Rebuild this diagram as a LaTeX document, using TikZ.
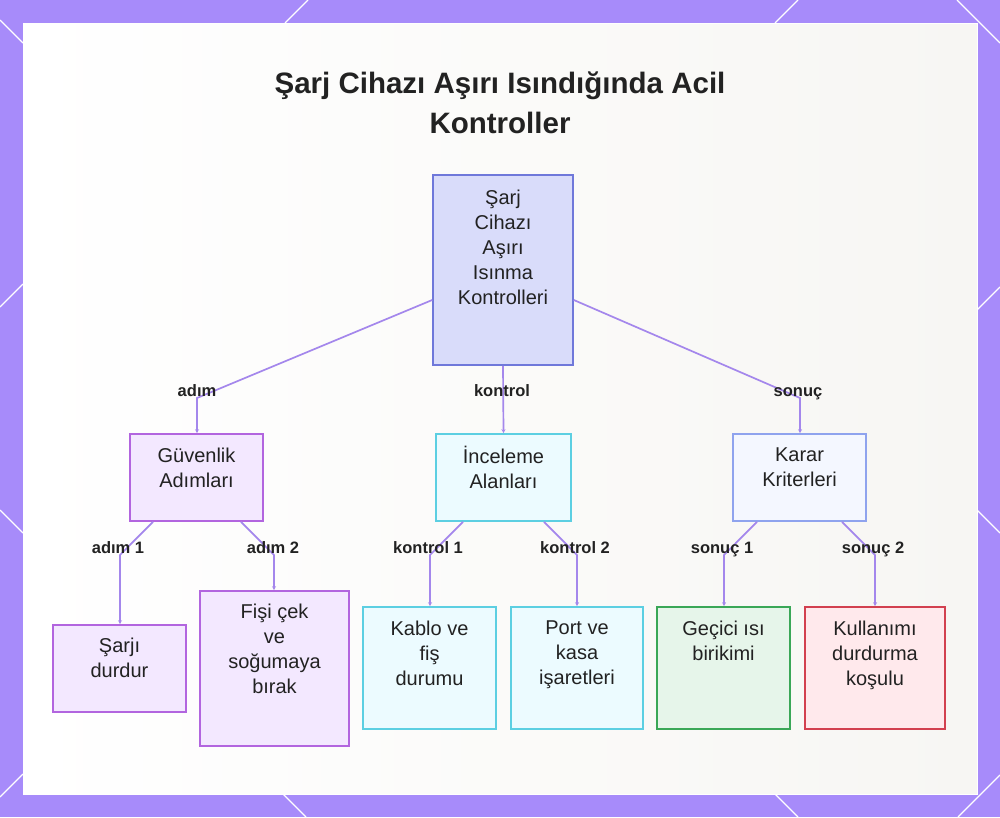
\documentclass[tikz,border=0pt]{standalone}
\usepackage{fontspec}
\setmainfont{Liberation Sans}
\usetikzlibrary{arrows.meta}
\definecolor{frame}{HTML}{A78BFA}
\definecolor{conn}{HTML}{A487EC}
\definecolor{txt}{HTML}{222222}
\definecolor{rootF}{HTML}{D9DCFA}\definecolor{rootD}{HTML}{6F78DA}
\definecolor{purF}{HTML}{F3E8FF}\definecolor{purD}{HTML}{B265DF}
\definecolor{cyaF}{HTML}{ECFBFF}\definecolor{cyaD}{HTML}{5CCFE2}
\definecolor{bluF}{HTML}{F4F7FF}\definecolor{bluD}{HTML}{8FA3EE}
\definecolor{grnF}{HTML}{E6F5EA}\definecolor{grnD}{HTML}{3AA757}
\definecolor{redF}{HTML}{FFE9EC}\definecolor{redD}{HTML}{D2404F}
\tikzset{
  boxbase/.style={draw, line width=1.6pt, inner sep=0pt},
  rootbox/.style={boxbase, fill=rootF, draw=rootD},
  purbox/.style={boxbase, fill=purF, draw=purD},
  cyabox/.style={boxbase, fill=cyaF, draw=cyaD},
  blubox/.style={boxbase, fill=bluF, draw=bluD},
  grnbox/.style={boxbase, fill=grnF, draw=grnD},
  redbox/.style={boxbase, fill=redF, draw=redD},
  btext/.style={anchor=north, inner sep=0pt, align=center, text=txt, font=\fontsize{20}{25}\selectfont},
  elabel/.style={anchor=base, inner sep=1pt, text=txt, font=\fontsize{16.5}{18}\selectfont\bfseries},
  conline/.style={draw=conn, line width=1.7pt, -{Stealth[length=4pt,width=4pt]}},
  frameline/.style={draw=white, line width=1.3pt}
}
\begin{document}
\begin{tikzpicture}[x=1pt,y=-1pt]
\useasboundingbox (0,0) rectangle (1000,817);
% frame
\fill[frame] (0,0) rectangle (1000,817);
\draw[frameline] (0,20) -- (23,43);
\draw[frameline] (285,23) -- (308,0);
\draw[frameline] (775,23) -- (798,0);
\draw[frameline] (957,0) -- (1000,43);
\draw[frameline] (0,307) -- (23,284);
\draw[frameline] (0,510) -- (23,533);
\draw[frameline] (977,310) -- (1000,287);
\draw[frameline] (977,510) -- (1000,533);
\draw[frameline] (0,797) -- (23,774);
\draw[frameline] (283,794) -- (306,817);
\draw[frameline] (775,794) -- (798,817);
\draw[frameline] (958,817) -- (1000,775);
\shade[left color=white, right color={rgb,255:red,247;green,246;blue,243}, draw=white, line width=1pt] (23,23) rectangle (977,794);
% title
\node[inner sep=0pt, align=center, text=txt, font=\fontsize{29.5}{40}\selectfont\bfseries] (title) at (500,103) {Şarj Cihazı Aşırı Isındığında Acil\\Kontroller};
% root
\node[rootbox, minimum width=140pt, minimum height=190pt] (root) at (503,270) {};
\node[btext] (roott) at (503,190) {Şarj\\Cihazı\\Aşırı\\Isınma\\Kontrolleri};
% level 2
\node[purbox, minimum width=133pt, minimum height=87pt] (guv) at (196.5,477.5) {};
\node[btext] (guvt) at (196.5,448) {Güvenlik\\Adımları};
\node[cyabox, minimum width=135pt, minimum height=87pt] (inc) at (503.5,477.5) {};
\node[btext] (inct) at (503.5,446) {İnceleme\\Alanları};
\node[blubox, minimum width=133pt, minimum height=87pt] (kar) at (799.5,477.5) {};
\node[btext] (kart) at (799.5,448) {Karar\\Kriterleri};
% level 3
\node[purbox, minimum width=133pt, minimum height=87pt] (sar) at (119.5,668.5) {};
\node[btext] (sart) at (119.5,638) {Şarjı\\durdur};
\node[purbox, minimum width=149pt, minimum height=155pt] (fis) at (274.5,668.5) {};
\node[btext] (fist) at (274.5,604) {Fişi çek\\ve\\soğumaya\\bırak};
\node[cyabox, minimum width=133pt, minimum height=122pt] (kab) at (429.5,668) {};
\node[btext] (kabt) at (429.5,621) {Kablo ve\\fiş\\durumu};
\node[cyabox, minimum width=132pt, minimum height=122pt] (por) at (577,668) {};
\node[btext] (port) at (577,621) {Port ve\\kasa\\işaretleri};
\node[grnbox, minimum width=133pt, minimum height=122pt] (gec) at (723.5,668) {};
\node[btext] (gect) at (723.5,621) {Geçici ısı\\birikimi};
\node[redbox, minimum width=140pt, minimum height=122pt] (kul) at (875,668) {};
\node[btext] (kult) at (875,621) {Kullanımı\\durdurma\\koşulu};
% bend coordinates
\coordinate (b1) at (197,398);
\coordinate (b2) at (503,398);
\coordinate (b3) at (800,398);
\coordinate (c1) at (120,555);
\coordinate (c2) at (274,555);
\coordinate (c3) at (430,555);
\coordinate (c4) at (577,555);
\coordinate (c5) at (724,555);
\coordinate (c6) at (875,555);
% connectors
\draw[conline] (root.west |- 0,300) -- (b1) -- (guv.north -| b1);
\draw[conline] (root.south) -- (inc.north);
\draw[conline] (root.east |- 0,300) -- (b3) -- (kar.north -| b3);
\draw[conline] (guv.south -| 153,0) -- (c1) -- (sar.north -| c1);
\draw[conline] (guv.south -| 241,0) -- (c2) -- (fis.north -| c2);
\draw[conline] (inc.south -| 463,0) -- (c3) -- (kab.north -| c3);
\draw[conline] (inc.south -| 544,0) -- (c4) -- (por.north -| c4);
\draw[conline] (kar.south -| 757,0) -- (c5) -- (gec.north -| c5);
\draw[conline] (kar.south -| 842,0) -- (c6) -- (kul.north -| c6);
% labels
\node[elabel] (l1) at (197,396) {adım};
\node[elabel] (l2) at (502,396) {kontrol};
\node[elabel] (l3) at (798,396) {sonuç};
\node[elabel] (l4) at (118,553) {adım 1};
\node[elabel] (l5) at (273,553) {adım 2};
\node[elabel] (l6) at (428,553) {kontrol 1};
\node[elabel] (l7) at (575,553) {kontrol 2};
\node[elabel] (l8) at (722,553) {sonuç 1};
\node[elabel] (l9) at (873,553) {sonuç 2};
\end{tikzpicture}
\end{document}
